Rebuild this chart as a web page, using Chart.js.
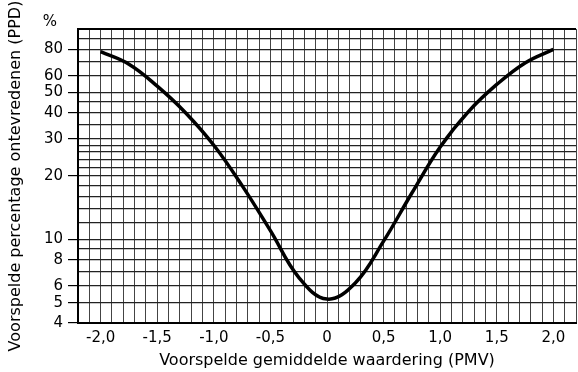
<!DOCTYPE html>
<html>
<head>
<meta charset="utf-8">
<script src="https://cdn.jsdelivr.net/npm/chart.js@4/dist/chart.umd.min.js"></script>
<style>
  body { margin: 0; background: #fff; }
  canvas { display: block; }
</style>
</head>
<body>
<canvas id="ppdChart" width="578" height="372"></canvas>
<script>
// PMV values along the curve and the PPD
const pmv = [-2, -1.75, -1.5, -1.25, -1, -0.75, -0.5, -0.25, 0, 0.25, 0.5, 0.75, 1, 1.25, 1.5, 1.75, 2];
const ppd = [78, 68, 53.5, 40, 28, 18, 11, 6.6, 5.2, 6.2, 9.8, 16.6, 27.5, 40.5, 54.5, 69, 80];

// grid lines on the log axis, and the ones that get a label
const yGrid = [4, 5, 6, 7, 8, 9, 10, 12, 14, 16, 18, 20, 22, 24, 26, 28, 30, 35, 40, 45, 50, 60, 70, 80, 90, 100];
const yLabels = [4, 5, 6, 8, 10, 20, 30, 40, 50, 60, 80];
const xLabels = [-2, -1.5, -1, -0.5, 0, 0.5, 1, 1.5, 2];

const font = 'DejaVu Sans, sans-serif';

// "%" above the axis and the heavy top border
const extras = {
  id: 'extras',
  afterDraw(chart) {
    const c = chart.ctx, a = chart.chartArea;
    c.save();
    c.strokeStyle = '#000';
    c.lineWidth = 2;
    c.beginPath();
    c.moveTo(a.left, a.top);
    c.lineTo(a.right, a.top);
    c.stroke();
    c.fillStyle = '#000';
    c.font = '15px ' + font;
    c.textAlign = 'center';
    c.textBaseline = 'middle';
    c.fillText('%', 50, 22);
    c.restore();
  }
};

new Chart(document.getElementById('ppdChart').getContext('2d'), {
  type: 'line',
  data: {
    datasets: [{
      data: pmv.map((x, i) => ({ x: x, y: ppd[i] })),
      borderColor: '#000',
      borderWidth: 3.5,
      pointRadius: 0,
      tension: 0.4,
      fill: false
    }]
  },
  options: {
    responsive: false,
    animation: false,
    layout: { padding: { top: 29, right: 0, left: 0, bottom: 0 } },
    plugins: { legend: { display: false }, tooltip: { enabled: false } },
    scales: {
      x: {
        type: 'linear',
        min: -2.2,
        max: 2.2,
        afterBuildTicks(scale) {
          const t = [];
          for (let i = -22; i <= 22; i++) t.push({ value: i / 10 });
          scale.ticks = t;
        },
        afterFit(scale) { scale.height = 49; },
        grid: { color: '#444', lineWidth: 1, tickLength: 4, tickColor: 'rgba(0,0,0,0)' },
        border: { color: '#000', width: 2 },
        ticks: {
          autoSkip: false,
          maxRotation: 0,
          padding: 2,
          color: '#000',
          font: { family: font, size: 15 },
          callback(v) {
            const hit = xLabels.find(l => Math.abs(l - v) < 1e-6);
            if (hit === undefined) return '';
            return hit === 0 ? '0' : hit.toFixed(1).replace('.', ',');
          }
        },
        title: {
          display: true,
          text: 'Voorspelde gemiddelde waardering (PMV)',
          color: '#000',
          font: { family: font, size: 16 },
          padding: { top: 0, bottom: 2 }
        }
      },
      y: {
        type: 'logarithmic',
        min: 4,
        max: 100,
        afterBuildTicks(scale) {
          scale.ticks = yGrid.map(v => ({ value: v }));
        },
        afterFit(scale) { scale.width = 78; },
        grid: {
          color: '#222',
          lineWidth: 1.2,
          tickLength: 10,
          tickColor: ctx => (ctx.tick && yLabels.includes(ctx.tick.value)) ? '#000' : 'rgba(0,0,0,0)'
        },
        border: { color: '#000', width: 2 },
        ticks: {
          autoSkip: false,
          padding: 5,
          color: '#000',
          font: { family: font, size: 15 },
          callback(v) { return yLabels.includes(v) ? String(v) : ''; }
        },
        title: {
          display: true,
          text: 'Voorspelde percentage ontevredenen (PPD)',
          color: '#000',
          font: { family: font, size: 16 },
          padding: { top: 6, bottom: 0 }
        }
      }
    }
  },
  plugins: [extras]
});
</script>
</body>
</html>
